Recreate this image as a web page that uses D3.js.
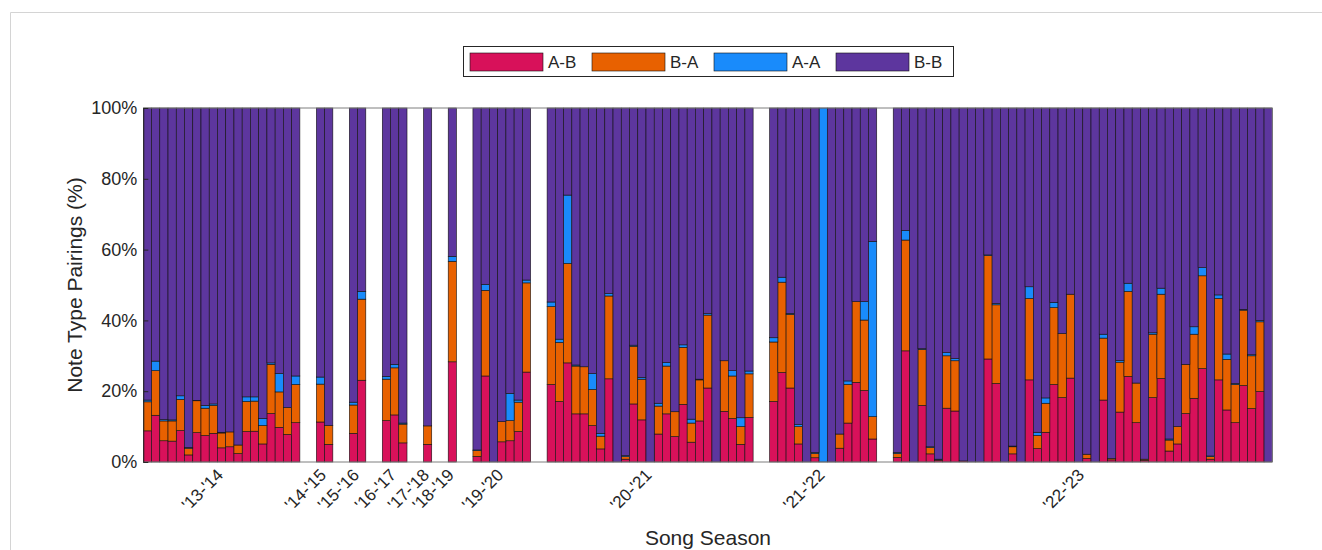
<!DOCTYPE html>
<html>
<head>
<meta charset="utf-8">
<script src="https://cdn.jsdelivr.net/npm/d3@7"></script>
<style>
  body { margin: 0; background: #fff; }
  text { font-family: "Liberation Sans", Arial, sans-serif; fill: #262626; }
</style>
</head>
<body>
<script>
// seasons and how many songs in each
let seasons = ["'13-'14", "'14-'15", "'15-'16", "'16-'17", "'17-'18", "'18-'19", "'19-'20", "'20-'21", "'21-'22", "'22-'23"];
let songsPerSeason = [19, 2, 2, 3, 1, 1, 7, 25, 13, 46];

// percent of each pairing per song (B-B is the rest)
let abPct = [
	8.8, 13.2, 6.0, 5.9, 8.9, 2.0, 8.3, 7.5, 8.1, 4.0, 4.3, 2.4, 8.6, 8.7, 5.1, 13.7, 9.8, 7.8, 11.1,
	11.3, 5.0,
	8.1, 23.1,
	11.7, 13.3, 5.4,
	5.0,
	28.3,
	1.6, 24.3, 0, 5.7, 6.0, 8.6, 25.4,
	21.9, 17.1, 28.0, 13.6, 13.6, 10.3, 3.7, 23.5, 0, 0.8, 16.4, 11.9, 0, 7.9, 13.6, 7.2, 16.3, 5.6, 11.6, 20.9, 0, 14.3, 12.3, 5.0, 12.6,
	17.1, 25.3, 20.9, 5.1, 0, 1.2, 0, 0, 3.9, 11.0, 22.5, 20.2, 6.5,
	1.3, 31.4, 0, 16.0, 2.3, 0.5, 15.2, 14.4, 0.3, 0, 0, 29.1, 22.2, 0, 2.3, 0, 23.2, 3.8, 8.4, 21.9, 18.2, 23.7, 0, 1.0, 0, 17.5, 0.6, 14.1, 24.2, 11.1, 0.5, 18.2, 23.6, 3.1, 5.1, 13.7, 18.0, 26.4, 0.8, 23.2, 14.7, 11.1, 21.6, 15.1, 19.9, 0
];
let baPct = [
	8.2, 12.6, 5.6, 5.7, 8.8, 1.9, 9.0, 7.7, 7.9, 4.2, 4.2, 2.4, 8.5, 8.5, 5.2, 13.9, 10.0, 7.6, 10.8,
	10.7, 5.3,
	8.0, 22.9,
	11.7, 13.3, 5.3,
	5.2,
	28.4,
	1.6, 24.2, 0, 5.7, 5.7, 8.3, 25.2,
	22.0, 16.7, 28.1, 13.5, 13.3, 10.2, 3.6, 23.4, 0, 0.7, 16.3, 11.5, 0, 7.9, 13.5, 7.0, 16.1, 5.4, 11.6, 20.6, 0, 14.3, 12.0, 5.0, 12.3,
	16.8, 25.5, 20.8, 4.9, 0, 1.2, 0, 0, 4.0, 10.9, 22.8, 19.9, 6.3,
	1.1, 31.3, 0, 15.8, 1.8, 0.2, 14.8, 14.2, 0, 0, 0, 29.2, 22.2, 0, 2.0, 0, 23.0, 3.7, 8.2, 21.7, 18.1, 23.7, 0, 1.2, 0, 17.5, 0.4, 14.1, 24.0, 11.2, 0.3, 17.9, 23.8, 3.1, 4.9, 13.9, 18.1, 26.2, 0.7, 23.0, 14.3, 10.8, 21.3, 14.9, 19.7, 0
];
let aaPct = [
	0.5, 2.7, 0.4, 0.3, 1.0, 0.2, 0.1, 0.8, 0.4, 0.2, 0, 0, 1.3, 1.2, 2.0, 0.4, 5.2, 0, 2.4,
	2.0, 0,
	0.8, 2.2,
	0.8, 1.0, 0.3,
	0,
	1.4,
	0.2, 1.7, 0, 0, 7.7, 0.6, 0.8,
	1.3, 0.9, 19.3, 0.3, 0, 4.5, 0.8, 0.7, 0, 0.3, 0.3, 0.5, 0, 0.8, 1.0, 0, 0.7, 1.1, 0.2, 0.4, 0, 0, 1.5, 2.5, 0.8,
	1.2, 1.4, 0.3, 0.6, 0, 0.3, 100, 0, 0, 1.0, 0, 5.2, 49.5,
	0.3, 2.7, 0, 0.2, 0.2, 0.1, 0.9, 0.6, 0, 0, 0, 0.2, 0.4, 0, 0.2, 0, 3.3, 0.9, 1.5, 1.5, 0, 0, 0, 0, 0, 1.1, 0, 0.5, 2.3, 0, 0, 0.4, 1.7, 0.3, 0, 0, 2.1, 2.3, 0.2, 1.0, 1.5, 0.3, 0.2, 0.3, 0.4, 0
];

let keys = ["ab", "ba", "aa", "bb"];
let legendNames = ["A-B", "B-A", "A-A", "B-B"];
let colors = ["#d8115a", "#e86100", "#198bfb", "#5d369e"];
let gapSlots = 2; // empty slots between seasons

let svg = d3.select("body").append("svg")
	.attr("width", 1322)
	.attr("height", 550);

// light frame round the figure
svg.append("path")
	.attr("d", "M10.5,550 V12.5 H1322")
	.attr("fill", "none")
	.attr("stroke", "#d4d4d4");

let margin = {top: 108, left: 143.3, right: 1272.3, bottom: 462};

// build one row per song with its slot on the x axis, and the middle of each season for the ticks
let rows = [];
let seasonMid = [];
let slot = 0, k = 0;
songsPerSeason.forEach((n, s) => {
	seasonMid.push(slot + n / 2);
	for (let i = 0; i < n; i++) {
		rows.push({
			slot: slot,
			ab: abPct[k], ba: baPct[k], aa: aaPct[k],
			bb: Math.max(0, 100 - abPct[k] - baPct[k] - aaPct[k])
		});
		slot++; k++;
	}
	if (s < songsPerSeason.length - 1) slot += gapSlots;
});
let nSlots = slot;

let x = d3.scaleLinear()
	.domain([0, nSlots])
	.range([margin.left, margin.right]);

let y = d3.scaleLinear()
	.domain([0, 100])
	.range([margin.bottom, margin.top]);

let color = d3.scaleOrdinal().domain(keys).range(colors);

let stacked = d3.stack().keys(keys)(rows);

svg.append("g")
	.selectAll("g")
	.data(stacked)
	.join("g")
		.attr("fill", d => color(d.key))
	.selectAll("rect")
	.data(d => d)
	.join("rect")
		.attr("x", d => x(d.data.slot))
		.attr("width", x(1) - x(0))
		.attr("y", d => y(d[1]))
		.attr("height", d => y(d[0]) - y(d[1]))
		.attr("stroke", "#111")
		.attr("stroke-width", 0.6);

// axes box
svg.append("path")
	.attr("d", `M${margin.left},${margin.top} H${margin.right} V${margin.bottom} H${margin.left}`)
	.attr("fill", "none")
	.attr("stroke", "#7f7f7f")
	.attr("stroke-width", 1);

let yAxis = d3.axisLeft(y)
	.tickValues([0, 20, 40, 60, 80, 100])
	.tickFormat(d => d + "%")
	.tickSizeInner(-5)
	.tickSizeOuter(0)
	.tickPadding(6);

let yG = svg.append("g")
	.attr("transform", `translate(${margin.left},0)`)
	.call(yAxis);
yG.select(".domain").attr("stroke", "#262626");
yG.selectAll(".tick line").attr("stroke", "#262626");
yG.selectAll("text").attr("font-size", 18).attr("fill", "#262626");

let xAxis = d3.axisBottom(x)
	.tickValues(seasonMid)
	.tickFormat((d, i) => seasons[i])
	.tickSizeInner(0)
	.tickSizeOuter(0)
	.tickPadding(4);

let xG = svg.append("g")
	.attr("transform", `translate(0,${margin.bottom})`)
	.call(xAxis);
xG.select(".domain").remove();
xG.selectAll("text")
	.attr("font-size", 17)
	.attr("fill", "#262626")
	.attr("text-anchor", "end")
	.attr("dy", "0.6em")
	.attr("transform", "translate(-8,4) rotate(-45)");

svg.append("text")
	.attr("x", 708)
	.attr("y", 545)
	.attr("text-anchor", "middle")
	.attr("font-size", 21)
	.text("Song Season");

svg.append("text")
	.attr("transform", `translate(82,${(margin.top + margin.bottom) / 2}) rotate(-90)`)
	.attr("text-anchor", "middle")
	.attr("font-size", 21)
	.text("Note Type Pairings (%)");

// legend
let legend = svg.append("g").attr("transform", "translate(463,46)");
legend.append("rect")
	.attr("x", 0.5).attr("y", 0.5)
	.attr("width", 490).attr("height", 30)
	.attr("fill", "#fff")
	.attr("stroke", "#262626");

let item = legend.selectAll("g.item")
	.data(keys)
	.join("g")
		.attr("class", "item")
		.attr("transform", (d, i) => `translate(${7 + i * 122},7)`);
item.append("rect")
	.attr("width", 73).attr("height", 18)
	.attr("fill", d => color(d))
	.attr("stroke", "#111")
	.attr("stroke-width", 0.6);
item.append("text")
	.attr("x", 78).attr("y", 15)
	.attr("font-size", 17)
	.text((d, i) => legendNames[i]);
</script>
</body>
</html>
